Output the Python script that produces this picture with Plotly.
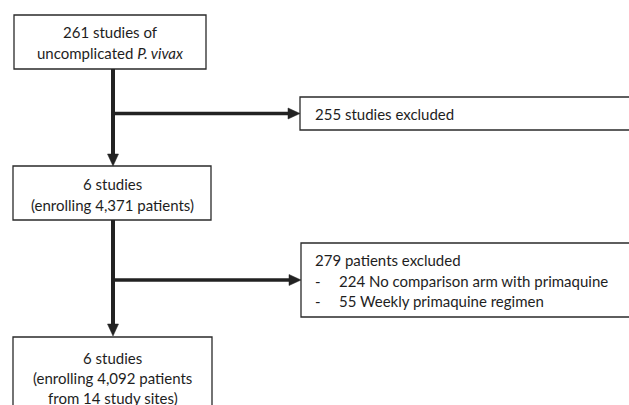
import plotly.graph_objects as go

# ---- content ----
box1_lines = ["261 studies of", "uncomplicated <i>P. vivax</i>"]
box2_lines = ["255 studies excluded"]
box3_lines = ["6 studies", "(enrolling 4,371 patients)"]
box4_lines = ["279 patients excluded"]
box4_items = ["224 No comparison arm with primaquine", "55 Weekly primaquine regimen"]
box5_lines = ["6 studies", "(enrolling 4,092 patients", "from 14 study sites)"]

W, H = 629, 405
FONT = "Lato"
FS = 15
TXT = "#1e1e1e"
LINE = "#222222"

fig = go.Figure()
shapes = []
ann = []

def box(x0, y0, x1, y1):
    shapes.append(dict(type="rect", xref="x", yref="y", x0=x0, y0=y0, x1=x1, y1=y1,
                       line=dict(color="#2a2a2a", width=1.3), fillcolor="white", layer="above"))

def line(x0, y0, x1, y1, w=4):
    shapes.append(dict(type="line", xref="x", yref="y", x0=x0, y0=y0, x1=x1, y1=y1,
                       line=dict(color=LINE, width=w), layer="above"))

def head_down(x, ytip, w=11, h=12):
    shapes.append(dict(type="path", xref="x", yref="y",
                       path=f"M {x-w/2},{ytip-h} L {x+w/2},{ytip-h} L {x},{ytip} Z",
                       fillcolor=LINE, line=dict(color=LINE, width=0.5), layer="above"))

def head_right(xtip, y, w=12, h=11):
    shapes.append(dict(type="path", xref="x", yref="y",
                       path=f"M {xtip-w},{y-h/2} L {xtip-w},{y+h/2} L {xtip},{y} Z",
                       fillcolor=LINE, line=dict(color=LINE, width=0.5), layer="above"))

def text(x, y, s, anchor="center"):
    ann.append(dict(x=x, y=y, xref="x", yref="y", text=s, showarrow=False,
                    xanchor=anchor, yanchor="middle",
                    font=dict(family=FONT, size=FS, color=TXT)))

# boxes
box(14, 15, 206, 69)
box(300, 97, 640, 130)
box(13, 166, 211, 220)
box(301, 243, 640, 317)
box(13, 337, 212, 430)

# connectors
line(113, 69, 113, 156)
head_down(113, 166)
line(113, 113.5, 290, 113.5, w=3.5)
head_right(300, 113.5)

line(113, 220, 113, 325)
head_down(113, 336)
line(113, 280, 291, 280, w=3.5)
head_right(301, 280)

# texts
cx1 = (14 + 206) / 2
for i, s in enumerate(box1_lines):
    text(cx1, 32 + i * 21, s)
for i, s in enumerate(box2_lines):
    text(313, 114 + i * 20, s, "left")
cx3 = (13 + 211) / 2
for i, s in enumerate(box3_lines):
    text(cx3, 184 + i * 21, s)
for i, s in enumerate(box4_lines):
    text(313, 260, s, "left")
for i, s in enumerate(box4_items):
    text(313, 281 + i * 19.5, "-", "left")
    text(337, 281 + i * 19.5, s, "left")
cx5 = (13 + 212) / 2
for i, s in enumerate(box5_lines):
    text(cx5, 358 + i * 20, s)

fig.update_layout(
    width=W, height=H, margin=dict(l=0, r=0, t=0, b=0),
    paper_bgcolor="white", plot_bgcolor="white",
    xaxis=dict(range=[0, W], visible=False, fixedrange=True),
    yaxis=dict(range=[H, 0], visible=False, fixedrange=True),
    shapes=shapes, annotations=ann, showlegend=False,
)
fig.write_html("out.html", config={"displayModeBar": False},
               post_script="document.body.style.margin='0';document.body.style.overflow='hidden';")
